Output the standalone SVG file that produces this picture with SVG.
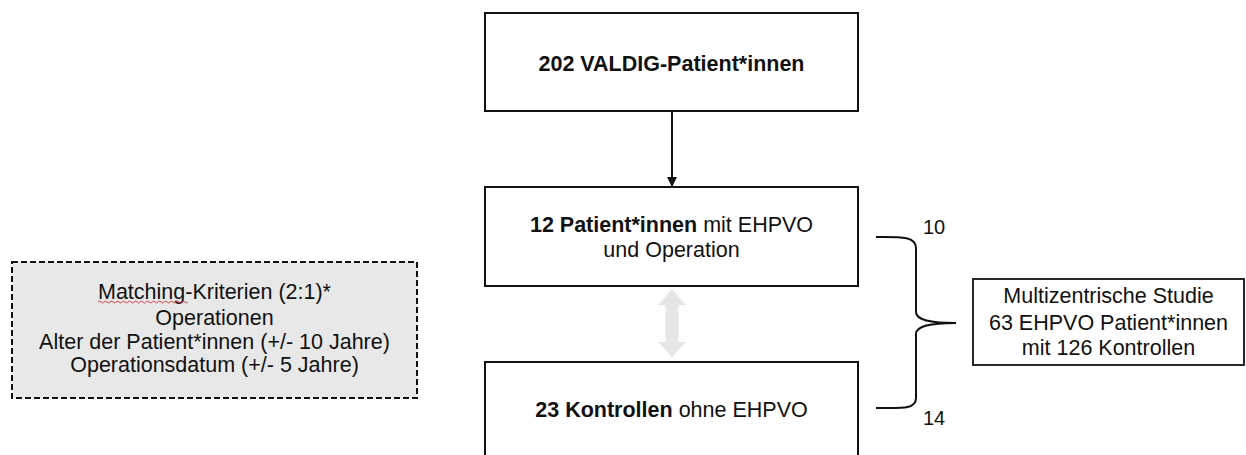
<svg xmlns="http://www.w3.org/2000/svg" width="1246" height="455" viewBox="0 0 1246 455">
<style>
text{font-family:"Liberation Sans",Arial,sans-serif;font-size:21.5px;fill:#111;text-anchor:middle}
.b{font-weight:bold}
.box{fill:#fff;stroke:#111;stroke-width:2}
.num{font-size:20px}
</style>
<defs>
<marker id="ah" markerWidth="10" markerHeight="10" refX="9" refY="5" orient="auto" markerUnits="userSpaceOnUse">
<path d="M0,0 L10,5 L0,10 Z" fill="#111"/>
</marker>
</defs>
<rect width="1246" height="455" fill="#fff"/>
<g id="criteria">
<rect x="12" y="262" width="405" height="136" fill="#e8e8e8" stroke="#111" stroke-width="2" stroke-dasharray="6,3"/>
<text x="214.5" y="299">Matching-Kriterien (2:1)*</text>
<path d="M98,302 q1.5,-2 3,0 t3,0 t3,0 t3,0 t3,0 t3,0 t3,0 t3,0 t3,0 t3,0 t3,0 t3,0 t3,0 t3,0 t3,0 t3,0 t3,0 t3,0 t3,0 t3,0 t3,0 t3,0 t3,0 t3,0 t3,0 t3,0 t3,0 t3,0 t3,0 t3,0" fill="none" stroke="#e03030" stroke-width="0.9"/>
<text x="214.5" y="325">Operationen</text>
<text x="214.5" y="349">Alter der Patient*innen (+/- 10 Jahre)</text>
<text x="214.5" y="372">Operationsdatum (+/- 5 Jahre)</text>
</g>
<g id="valdig">
<rect class="box" x="485" y="13" width="373" height="98"/>
<text x="671.5" y="71" class="b">202 VALDIG-Patient*innen</text>
</g>
<g id="patients">
<rect class="box" x="485" y="187" width="373" height="99"/>
<text x="671.5" y="232"><tspan class="b">12 Patient*innen</tspan> mit EHPVO</text>
<text x="671.5" y="257">und Operation</text>
</g>
<g id="controls">
<rect class="box" x="485" y="362" width="373" height="110"/>
<text x="671.5" y="417"><tspan class="b">23 Kontrollen</tspan> ohne EHPVO</text>
</g>
<g id="study">
<rect x="973" y="279" width="271" height="86" fill="#fff" stroke="#111" stroke-width="1.8"/>
<text x="1108.5" y="303">Multizentrische Studie</text>
<text x="1108.5" y="330">63 EHPVO Patient*innen</text>
<text x="1108.5" y="355">mit 126 Kontrollen</text>
</g>
<g id="connectors">
<line x1="672" y1="111" x2="672" y2="186" stroke="#111" stroke-width="2" marker-end="url(#ah)"/>
<path d="M672,289 L686,305 L678.5,305 L678.5,342 L686,342 L672,357 L658,342 L665.5,342 L665.5,305 L658,305 Z" fill="#e6e6e6"/>
<path d="M876,237 C900,237 916,236 916,248 L916,312 C916,320 930,323 956,323 C930,323 916,326 916,334 L916,398 C916,410 900,408 876,408" fill="none" stroke="#111" stroke-width="2"/>
<text class="num" x="934" y="234">10</text>
<text class="num" x="934" y="425">14</text>
</g>
</svg>
